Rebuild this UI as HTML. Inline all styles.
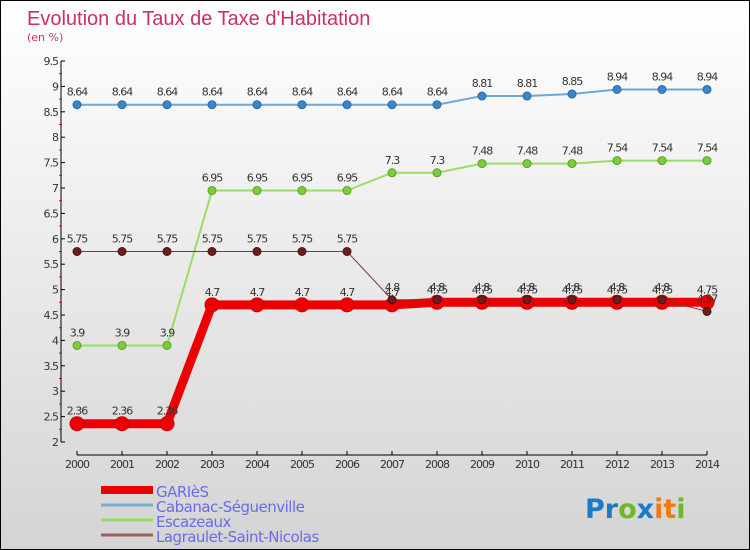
<!DOCTYPE html>
<html><head><meta charset="utf-8">
<style>
body{margin:0;}
#wrap{width:748px;height:548px;border:1px solid #000;background:linear-gradient(#fff,#d4d4d4);position:relative;font-family:"DejaVu Sans","Liberation Sans",sans-serif;overflow:hidden}
svg{position:absolute;left:0;top:0}
</style></head><body>
<div id="wrap">
<svg id="chart" width="750" height="550">
<text x="26" y="24" font-size="20" fill="#c8306a" font-family="Liberation Sans, sans-serif">Evolution du Taux de Taxe d'Habitation</text>
<text x="26" y="40" font-size="11" fill="#c8306a">(en %)</text>
<g id="axes"></g><g id="series"></g><g id="legend"></g>
<text x="584" y="517" font-size="27" font-weight="bold"><tspan fill="#1a7cc8">Pr</tspan><tspan fill="#6cb82c">o</tspan><tspan fill="#1a7cc8">x</tspan><tspan fill="#f07a10">it</tspan><tspan fill="#6cb82c">i</tspan></text>
</svg>
</div>
<script>
const years=[2000,2001,2002,2003,2004,2005,2006,2007,2008,2009,2010,2011,2012,2013,2014];
const yTicks=[2,2.5,3,3.5,4,4.5,5,5.5,6,6.5,7,7.5,8,8.5,9,9.5];
const garies=[2.36,2.36,2.36,4.7,4.7,4.7,4.7,4.7,4.75,4.75,4.75,4.75,4.75,4.75,4.75];
const cabanac=[8.64,8.64,8.64,8.64,8.64,8.64,8.64,8.64,8.64,8.81,8.81,8.85,8.94,8.94,8.94];
const escazeaux=[3.9,3.9,3.9,6.95,6.95,6.95,6.95,7.3,7.3,7.48,7.48,7.48,7.54,7.54,7.54];
const lagraulet=[5.75,5.75,5.75,5.75,5.75,5.75,5.75,4.8,4.8,4.8,4.8,4.8,4.8,4.8,4.57];
const seriesNames=["GARIèS","Cabanac-Séguenville","Escazeaux","Lagraulet-Saint-Nicolas"];
const NS="http://www.w3.org/2000/svg";
const X=i=>76+i*45, Y=v=>441-(v-2)*50.8;
function mk(t,a,p){const e=document.createElementNS(NS,t);for(const k in a)e.setAttribute(k,a[k]);p.appendChild(e);return e;}
const ax=document.getElementById('axes');
const yl=mk('line',{x1:60,y1:60,x2:60,y2:441,stroke:'#000'},ax);


const xl=mk('line',{x1:76,y1:454,x2:706,y2:454,stroke:'#000'},ax);


yTicks.forEach(v=>{mk('line',{x1:60,y1:Y(v),x2:64,y2:Y(v),stroke:'#000'},ax);
if(v<9.5)mk('line',{x1:58,y1:Y(v+0.25),x2:61,y2:Y(v+0.25),stroke:'#e00'},ax);
const t=mk('text',{x:57,y:Y(v)+4,'font-size':11,'text-anchor':'end',fill:'#333','letter-spacing':'-1'},ax);t.textContent=v;

});
years.forEach((y,i)=>{mk('line',{x1:X(i),y1:450,x2:X(i),y2:454,stroke:'#000'},ax);
const t=mk('text',{x:X(i),y:467,'font-size':11,'text-anchor':'middle',fill:'#333','letter-spacing':'-1'},ax);t.textContent=y;

});
const sg=document.getElementById('series');
function draw(vals,name,col,lw,r,dot,dotStroke){
 const g=mk('g',{},sg);
 
 
 mk('polyline',{points:vals.map((v,i)=>X(i)+','+Y(v)).join(' '),fill:'none',stroke:col,'stroke-width':lw},g);
 vals.forEach((v,i)=>{const c=mk('circle',{cx:X(i),cy:Y(v),r:r,fill:dot,stroke:dotStroke,'stroke-width':1},g);
 
 
 const t=mk('text',{x:X(i),y:Y(v)-9,'font-size':11,'text-anchor':'middle',fill:'#333','letter-spacing':'-1'},g);t.textContent=v;});
}
draw(cabanac,'cabanac','#6fa8d8',2,4,'#3a86c8','#2a6aa8');
draw(escazeaux,'escazeaux','#99dd66',2,4,'#7ccc3e','#5aa028');
draw(garies,'garies','#ee0000',9,7,'#ee0000','#cc0000');
draw(lagraulet,'lagraulet','#7a3a3a',1,4,'#6a1e1e','#501010');
const lg=document.getElementById('legend');
const cols=['#ee0000','#7aaed0','#99dd66','#9a6060'],ws=[8,3,3,3];
seriesNames.forEach((n,i)=>{
 const yy=[492,507,522,537][i];
 mk('line',{x1:100,y1:yy-3,x2:152,y2:yy-3,stroke:cols[i],'stroke-width':ws[i]},lg);
 const t=mk('text',{x:155,y:yy+4,'font-size':15,fill:'#6a6ae8','letter-spacing':'-0.5'},lg);t.textContent=n;
 
 });
</script>
</body></html>
